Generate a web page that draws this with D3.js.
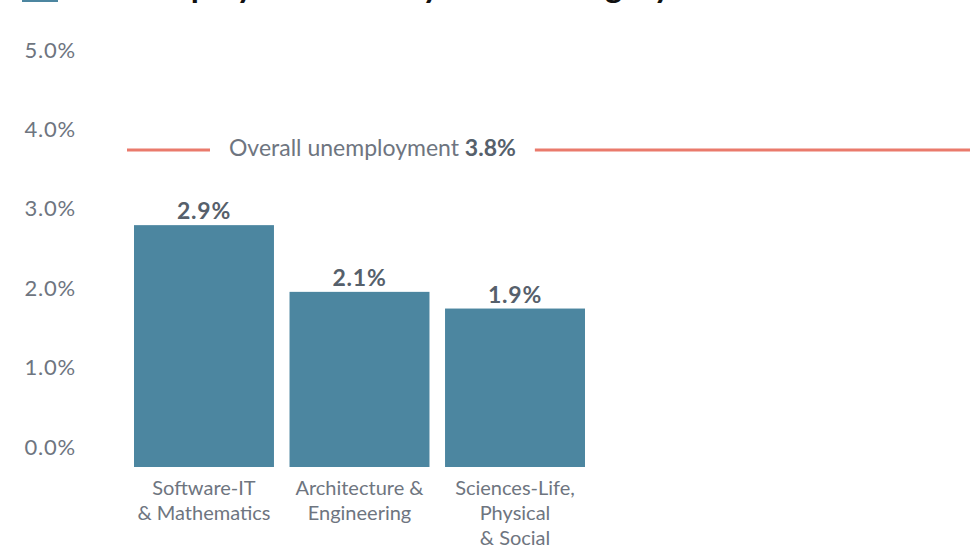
<!DOCTYPE html>
<html>
<head>
<meta charset="utf-8">
<script src="https://cdn.jsdelivr.net/npm/d3@7"></script>
<style>
  body { margin: 0; background: #fff; }
  svg { display: block; font-family: Lato, "Open Sans", sans-serif; }
</style>
</head>
<body>
<div id="chart"></div>
<script>
// Chart data
const titleText = "Unemployment rate by STEM category";
const categories = ["Software-IT\n& Mathematics", "Architecture &\nEngineering", "Sciences-Life,\nPhysical\n& Social"];
const values = [2.9, 2.1, 1.9];
const overallRate = 3.8;
const overallLabel = "Overall unemployment ";
const tickValues = [0, 1, 2, 3, 4, 5];

const width = 970, height = 547;
const barColor = "#4c86a0";
const lineColor = "#ea7a6c";
const textColor = "#6e7580";
const darkText = "#56606b";

const svg = d3.select("#chart").append("svg")
    .attr("width", width)
    .attr("height", height);

// Scale for the bars (zero at the bar baseline)
let yScale = d3.scaleLinear()
    .domain([0, 5])
    .range([467, 50]);

// Tick labels are laid out on their own spacing in the original
let tickScale = d3.scaleLinear()
    .domain([0, 5])
    .range([447, 50]);

let xScale = d3.scaleBand()
    .domain(categories)
    .range([134, 585])
    .paddingInner(0.1)
    .paddingOuter(0);

// Title, mostly cut off at the top edge
svg.append("rect")
    .attr("x", 22).attr("y", -30)
    .attr("width", 36).attr("height", 32)
    .attr("fill", barColor);
svg.append("text")
    .attr("x", 103).attr("y", -2)
    .attr("font-size", 33)
    .attr("font-weight", 700)
    .attr("fill", "#111")
    .text(titleText);

// Y-axis labels
let yAxis = d3.axisLeft(tickScale)
    .tickValues(tickValues)
    .tickFormat(d => d3.format(".1f")(d) + "%")
    .tickSize(0)
    .tickPadding(0);

let yAxisG = svg.append("g")
    .attr("transform", "translate(76,0)")
    .call(yAxis);
yAxisG.select(".domain").remove();
yAxisG.selectAll("text")
    .attr("font-family", "Lato, sans-serif")
    .attr("font-size", 22)
    .attr("letter-spacing", 0.8)
    .attr("fill", textColor);

// Bars
svg.append("g").selectAll("rect")
    .data(values)
    .join("rect")
    .attr("x", (d, i) => xScale(categories[i]))
    .attr("y", d => yScale(d))
    .attr("width", xScale.bandwidth())
    .attr("height", d => yScale(0) - yScale(d))
    .attr("fill", barColor);

// Value labels
svg.append("g").selectAll("text")
    .data(values)
    .join("text")
    .attr("x", (d, i) => xScale(categories[i]) + xScale.bandwidth() / 2)
    .attr("y", d => yScale(d) - 6)
    .attr("text-anchor", "middle")
    .attr("font-size", 23)
    .attr("font-weight", 700)
    .attr("letter-spacing", 0.8)
    .attr("fill", darkText)
    .text(d => d3.format(".1f")(d) + "%");

// Category labels, split on line breaks
let catG = svg.append("g").selectAll("text")
    .data(categories)
    .join("text")
    .attr("x", d => xScale(d) + xScale.bandwidth() / 2)
    .attr("y", 495)
    .attr("text-anchor", "middle")
    .attr("font-size", 20)
    .attr("fill", textColor);
catG.selectAll("tspan")
    .data(d => d.split("\n"))
    .join("tspan")
    .attr("x", function() { return d3.select(this.parentNode).attr("x"); })
    .attr("dy", (d, i) => i === 0 ? 0 : 25)
    .text(d => d);

// Overall unemployment reference line with label
let yLine = yScale(overallRate);
let label = svg.append("text")
    .attr("x", 229)
    .attr("y", yLine + 6)
    .attr("font-size", 23)
    .attr("fill", textColor);
label.append("tspan").text(overallLabel);
label.append("tspan")
    .attr("font-weight", 700)
    .attr("fill", darkText)
    .text(d3.format(".1f")(overallRate) + "%");

let labelEnd = 229 + label.node().getComputedTextLength();

svg.append("g").selectAll("line")
    .data([[127, 210], [labelEnd + 19, width]])
    .join("line")
    .attr("x1", d => d[0])
    .attr("x2", d => d[1])
    .attr("y1", yLine)
    .attr("y2", yLine)
    .attr("stroke", lineColor)
    .attr("stroke-width", 3);
</script>
</body>
</html>
